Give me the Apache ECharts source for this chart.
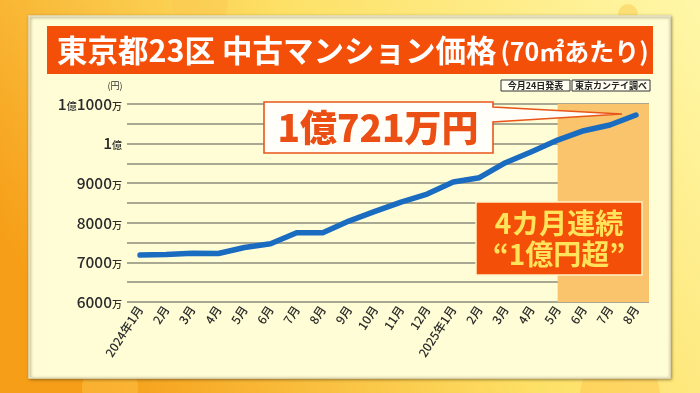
<!DOCTYPE html>
<html><head><meta charset="utf-8">
<script src="https://cdn.jsdelivr.net/npm/echarts@6/dist/echarts.min.js"></script>
<style>html,body{margin:0;padding:0;background:#fde36a;}#c{width:700px;height:393px;}</style>
</head><body><div id="c"></div>
<script>
const categories = ['2024年1月','2月','3月','4月','5月','6月','7月','8月','9月','10月','11月','12月',
                    '2025年1月','2月','3月','4月','5月','6月','7月','8月'];
// 万円
const prices = [7184, 7200, 7234, 7226, 7377, 7470, 7748, 7748, 8043, 8287, 8523, 8725,
                9029, 9138, 9517, 9795, 10090, 10326, 10470, 10721];
const yMin = 6000, yMax = 11000, yStep = 500;
const bandStartIndex = 16; // 2025年5月
const titleMain = '東京都23区 中古マンション価格';
const titleSub = '(70㎡あたり)';
const calloutText = '1億721万円';
const noteTexts = ['今月24日発表', '東京カンテイ調べ'];
const badgeLines = ['4カ月連続', '“1億円超”'];

const FONT = '"Noto Sans CJK JP", "Noto Sans", sans-serif';
const chart = echarts.init(document.getElementById('c'), null, {renderer: 'canvas'});

function yFmt(v) {
  if (v % 1000 !== 0) return '';
  if (v >= 10000) {
    const r = v - 10000;
    return r === 0 ? '{n|1}{s|億}' : '{n|1}{s|億}{n|' + r + '}{s|万}';
  }
  return '{n|' + v + '}{s|万}';
}

const option = {
  backgroundColor: {
    type: 'linear', x: 1, y: 0, x2: 0.15, y2: 1,
    colorStops: [
      {offset: 0, color: '#fff7a8'},
      {offset: 0.5, color: '#fde065'},
      {offset: 1, color: '#f69e18'}
    ]
  },
  animation: false,
  grid: {left: 127, right: 51, top: 104, bottom: 91, outerBoundsMode: 'none'},
  xAxis: [{
    type: 'category', data: categories, boundaryGap: true,
    axisLine: {show: false}, axisTick: {show: false}, splitLine: {show: false},
    axisLabel: {rotate: 57, margin: 5, fontSize: 12, fontWeight: 500, color: '#2a2a2a', fontFamily: FONT, interval: 0}
  }, {
    type: 'value', min: 0, max: categories.length, show: false
  }],
  yAxis: {
    type: 'value', min: yMin, max: yMax, interval: yStep,
    axisLine: {show: false}, axisTick: {show: false},
    splitLine: {show: true, lineStyle: {color: '#8d8b7b', width: 1.5}},
    axisLabel: {
      margin: 5, formatter: yFmt, color: '#2a2a2a',
      rich: {
        n: {fontSize: 15.5, fontFamily: FONT, color: '#2a2a2a', fontWeight: 500},
        s: {fontSize: 10, fontFamily: FONT, color: '#2a2a2a', fontWeight: 500, padding: [4, 0, 0, 0]}
      }
    }
  },
  series: [{
    type: 'line', data: prices, symbol: 'none', z: 5,
    lineStyle: {color: '#1a6cc0', width: 5.5, cap: 'round', join: 'round'}
  }, {
    type: 'line', xAxisIndex: 1, data: [], z: -1, silent: true,
    markArea: {
      silent: true,
      itemStyle: {color: '#f9c46b'},
      data: [[{xAxis: bandStartIndex + 0.5, yAxis: yMin}, {xAxis: categories.length, yAxis: yMax}]]
    }
  }]
};
chart.setOption(option);

const last = chart.convertToPixel({seriesIndex: 0}, [prices.length - 1, prices[prices.length - 1]]);
const tipX = last[0] - 14, tipY = last[1] - 1;

chart.setOption({
  graphic: [
    // bokeh
    {type: 'circle', shape: {cx: 200, cy: 2, r: 28}, style: {fill: 'rgba(250,200,80,0.45)'}, z: -30},
    {type: 'circle', shape: {cx: 628, cy: 14, r: 10}, style: {fill: 'rgba(250,210,90,0.6)'}, z: -30},
    {type: 'circle', shape: {cx: 110, cy: 388, r: 28}, style: {fill: 'rgba(255,200,80,0.45)'}, z: -30},
    {type: 'circle', shape: {cx: 620, cy: 395, r: 40}, style: {fill: 'rgba(255,190,70,0.4)'}, z: -30},
    // card
    {type: 'rect', shape: {x: 29, y: 16, width: 641, height: 362},
     style: {fill: '#fffdd6', stroke: '#e6e3c8', lineWidth: 1.5,
             shadowBlur: 3, shadowOffsetX: 1, shadowOffsetY: 1, shadowColor: 'rgba(90,70,30,0.55)'}, z: -20},
    // title bar
    {type: 'rect', shape: {x: 47, y: 26, width: 606, height: 48}, style: {fill: '#f44f08'}, z: 10},
    {type: 'text', x: 57, y: 50, z: 11,
     style: {text: '{a|' + titleMain + '}{b|' + titleSub + '}', verticalAlign: 'middle',
       rich: {
         a: {fontSize: 30.5, fontWeight: 'bold', fill: '#fff', fontFamily: FONT},
         b: {fontSize: 25, fontWeight: 'bold', fill: '#fff', fontFamily: FONT, padding: [3, 0, 0, 4]}
       }}},
    // (円)
    {type: 'text', x: 115, y: 86, z: 11,
     style: {text: '(円)', fontSize: 9, fill: '#333', fontFamily: FONT, align: 'center', verticalAlign: 'middle'}},
    // notes
    {type: 'rect', shape: {x: 501, y: 80, width: 69, height: 11}, style: {fill: '#fffef0', stroke: '#333', lineWidth: 1}, z: 11},
    {type: 'text', x: 535.5, y: 85.8, z: 12,
     style: {text: noteTexts[0], fontSize: 9, fontWeight: 'bold', fill: '#222', fontFamily: FONT, align: 'center', verticalAlign: 'middle'}},
    {type: 'rect', shape: {x: 572, y: 80, width: 78, height: 11}, style: {fill: '#fffef0', stroke: '#333', lineWidth: 1}, z: 11},
    {type: 'text', x: 611, y: 85.8, z: 12,
     style: {text: noteTexts[1], fontSize: 9, fontWeight: 'bold', fill: '#222', fontFamily: FONT, align: 'center', verticalAlign: 'middle'}},
    // callout
    {type: 'polygon', z: 20,
     shape: {points: [[264, 102], [493, 102], [493, 107], [tipX, tipY], [493, 122], [493, 153], [264, 153]]},
     style: {fill: '#fffef8', stroke: '#e9561c', lineWidth: 1.6}},
    {type: 'text', x: 378, y: 128, z: 21,
     style: {text: calloutText, fontSize: 37, fontWeight: 900, fill: '#ec4f14', fontFamily: FONT, align: 'center', verticalAlign: 'middle'}},
    // badge
    {type: 'rect', shape: {x: 476, y: 202, width: 166, height: 73}, z: 20,
     style: {fill: '#f44f08', stroke: '#fff3c8', lineWidth: 1.5}},
    {type: 'text', x: 559, y: 223, z: 21,
     style: {text: badgeLines[0], fontSize: 28, fontWeight: 'bold', fill: '#ffe35a', fontFamily: FONT, align: 'center', verticalAlign: 'middle'}},
    {type: 'text', x: 559, y: 254, z: 21,
     style: {text: badgeLines[1], fontSize: 28, fontWeight: 'bold', fill: '#ffe35a', fontFamily: FONT, align: 'center', verticalAlign: 'middle'}}
  ]
});
</script>
</body></html>
